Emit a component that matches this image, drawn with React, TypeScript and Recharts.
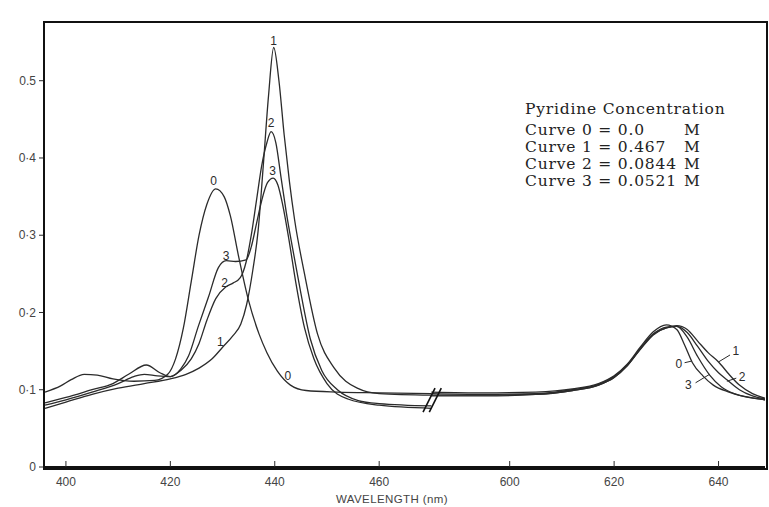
import React from 'react';
import { LineChart, Line, XAxis, YAxis, ReferenceDot, ReferenceLine } from 'recharts';

// ---- data: [wavelength nm, absorbance] ----
const curve0Left: [number, number][] = [
  [396, 0.097], [399, 0.105], [401, 0.113], [403.5, 0.12], [406, 0.119], [409, 0.114], [413, 0.111],
  [417, 0.112], [419.5, 0.12], [421, 0.14], [422.5, 0.18], [424, 0.24], [425.5, 0.3], [427, 0.34],
  [428.7, 0.36], [430.3, 0.35], [431.5, 0.325], [433, 0.275], [435, 0.215], [437, 0.172], [438.5, 0.148],
  [440.5, 0.124], [443, 0.106], [446, 0.099], [452, 0.097], [460, 0.096], [470, 0.095],
];
const curve1Left: [number, number][] = [
  [396, 0.076], [400, 0.084], [405, 0.094], [410, 0.102], [415, 0.108], [420, 0.114], [423, 0.12],
  [425.5, 0.128], [428, 0.14], [430, 0.155], [432, 0.17], [433.5, 0.185], [434.6, 0.21], [435.8, 0.255],
  [436.8, 0.305], [437.8, 0.39], [438.8, 0.48], [439.8, 0.543], [440.8, 0.5], [441.8, 0.43], [442.8, 0.37],
  [443.8, 0.32], [445.7, 0.25], [448.2, 0.172], [451.4, 0.128], [455.8, 0.102], [460, 0.095], [470, 0.093],
];
const curve2Left: [number, number][] = [
  [396, 0.08], [400, 0.087], [405, 0.097], [410, 0.108], [413, 0.117], [415, 0.12], [417.5, 0.118],
  [420, 0.117], [422, 0.125], [424, 0.14], [425.5, 0.16], [427, 0.19], [428.7, 0.218], [430.6, 0.233],
  [432, 0.238], [433.4, 0.245], [434.5, 0.265], [435.5, 0.3], [436.5, 0.345], [437.5, 0.39], [438.5, 0.42],
  [439.3, 0.434], [440.2, 0.42], [441.2, 0.375], [442.2, 0.33], [443.5, 0.28], [445, 0.225], [446.8, 0.166],
  [449, 0.125], [452, 0.1], [456, 0.086], [460, 0.082], [470, 0.079],
];
const curve3Left: [number, number][] = [
  [396, 0.083], [400, 0.09], [405, 0.1], [409, 0.108], [412, 0.12], [415.4, 0.132], [418, 0.122],
  [420, 0.117], [422, 0.127], [423.5, 0.144], [425.4, 0.183], [427.3, 0.22], [429.2, 0.258], [430.7, 0.267],
  [432.5, 0.266], [434.5, 0.268], [435.5, 0.285], [436.5, 0.315], [437.5, 0.345], [438.6, 0.368],
  [439.7, 0.374], [440.6, 0.365], [441.5, 0.34], [442.7, 0.295], [444, 0.24], [445.7, 0.18], [447.5, 0.14],
  [450, 0.108], [454, 0.088], [460, 0.08], [470, 0.076],
];
const curve0Right: [number, number][] = [
  [585, 0.097], [595, 0.096], [605, 0.097], [612, 0.101], [617, 0.108], [620, 0.118], [622.5, 0.133],
  [625, 0.155], [627.5, 0.175], [630, 0.184], [632, 0.178], [633.5, 0.158], [635, 0.135], [637, 0.118],
  [639, 0.106], [642, 0.097], [645, 0.091], [649, 0.087],
];
const curve1Right: [number, number][] = [
  [585, 0.095], [595, 0.094], [605, 0.095], [612, 0.1], [617, 0.107], [620, 0.117], [622.5, 0.132],
  [625, 0.153], [627.5, 0.172], [630, 0.18], [632, 0.183], [634, 0.178], [636, 0.163], [638, 0.148],
  [640, 0.136], [642, 0.12], [644, 0.106], [646.5, 0.095], [649, 0.089],
];
const curve2Right: [number, number][] = [
  [585, 0.093], [595, 0.093], [605, 0.094], [612, 0.099], [617, 0.106], [620, 0.116], [622.5, 0.131],
  [625, 0.152], [627.5, 0.171], [630, 0.18], [632, 0.182], [634, 0.174], [636, 0.156], [638, 0.137],
  [640, 0.122], [641.6, 0.113], [644, 0.1], [646.5, 0.092], [649, 0.088],
];
const curve3Right: [number, number][] = [
  [585, 0.092], [595, 0.092], [605, 0.094], [612, 0.099], [617, 0.106], [620, 0.116], [622.5, 0.131],
  [625, 0.153], [627.5, 0.172], [630, 0.181], [632, 0.182], [634, 0.168], [636, 0.143], [638.3, 0.119],
  [640.5, 0.104], [643, 0.095], [646, 0.09], [649, 0.087],
];

const xTickWavelengths = [400, 420, 440, 460, 600, 620, 640];
const xTickLabels = ['400', '420', '440', '460', '600', '620', '640'];
const yTicks = [0, 0.1, 0.2, 0.3, 0.4, 0.5];
const yTickLabels = ['0', '0·1', '0·2', '0·3', '0·4', '0.5'];

// curve number tags placed on the curves
const curveTags: { text: string; wl: number; a: number }[] = [
  { text: '1', wl: 439.8, a: 0.552 },
  { text: '2', wl: 439.3, a: 0.446 },
  { text: '3', wl: 439.6, a: 0.383 },
  { text: '0', wl: 428.3, a: 0.37 },
  { text: '3', wl: 430.7, a: 0.274 },
  { text: '2', wl: 430.4, a: 0.238 },
  { text: '1', wl: 429.6, a: 0.162 },
  { text: '0', wl: 442.5, a: 0.118 },
  { text: '0', wl: 632.4, a: 0.134 },
  { text: '1', wl: 643.3, a: 0.15 },
  { text: '2', wl: 644.5, a: 0.117 },
  { text: '3', wl: 634.2, a: 0.106 },
];
// little pointer strokes from right-hand tags to curves: [wl1, a1, wl2, a2]
const tagPointers: [number, number, number, number][] = [
  [633.5, 0.135, 634.8, 0.137],
  [640, 0.136, 642.2, 0.145],
  [641.6, 0.111, 643.4, 0.115],
  [635.6, 0.109, 638.3, 0.12],
];

const legendTitle = 'Pyridine Concentration';
const legendRows = ['Curve 0 = 0.0', 'Curve 1 = 0.467', 'Curve 2 = 0.0844', 'Curve 3 = 0.0521'];
const legendUnit = 'M';
const xAxisTitle = 'WAVELENGTH (nm)';

// ---- broken axis mapping ----
const BREAK_TO = 585;
const GAP_SHIFT = 115;
const toAxis = (wl: number) => (wl >= BREAK_TO ? wl - GAP_SHIFT : wl);
const X_MIN = 395.8;
const X_MAX = 533.9;
const Y_MAX = 0.576;
const breakMarks: [number, number, number, number][] = [
  [468.4, 0.071, 470.7, 0.102],
  [469.6, 0.071, 471.9, 0.102],
];

const toSeries = (pts: [number, number][]) => pts.map(([wl, a]) => ({ x: toAxis(wl), y: a }));

const segments = [curve0Left, curve1Left, curve2Left, curve3Left, curve0Right, curve1Right, curve2Right, curve3Right];

const INK = '#2b2b2b';
const TEXT = '#444';
const FRAME = { stroke: '#111', strokeWidth: 2 };

// plot box layout
const PLOT = { left: 44, top: 22, right: 765, bottom: 467 };

const XTick = (props: any) => {
  const { x, y, index } = props;
  return (
    <g>
      <line x1={x} x2={x} y1={y} y2={y - 6} stroke={INK} strokeWidth={1} />
      <text x={x} y={y + 19} textAnchor="middle" fontSize={12} fontFamily="Liberation Sans, Arial, sans-serif" fill={TEXT}>
        {xTickLabels[index]}
      </text>
    </g>
  );
};

export default function App() {
  return (
    <div style={{ position: 'absolute', left: 0, top: 0, width: 769, height: 507, background: '#fff' }}>
      <LineChart width={769} height={507} margin={{ top: PLOT.top, right: 769 - PLOT.right, bottom: 0, left: 0 }}>
        <XAxis
          type="number"
          dataKey="x"
          domain={[X_MIN, X_MAX]}
          allowDataOverflow
          ticks={xTickWavelengths.map(toAxis)}
          tick={<XTick />}
          tickLine={false}
          tickSize={0}
          tickMargin={0}
          axisLine={FRAME}
          height={507 - PLOT.bottom}
          interval={0}
        />
        <YAxis
          type="number"
          domain={[0, Y_MAX]}
          allowDataOverflow
          ticks={yTicks}
          tickFormatter={(v: number, i: number) => yTickLabels[i]}
          width={PLOT.left}
          axisLine={FRAME}
          tickLine={{ stroke: INK }}
          tickSize={5}
          tickMargin={3}
          tick={{ fontSize: 12, fill: TEXT, fontFamily: 'Liberation Sans, Arial, sans-serif' }}
        />
        {segments.map((seg, i) => (
          <Line
            key={i}
            data={toSeries(seg)}
            dataKey="y"
            type="monotone"
            dot={false}
            stroke={INK}
            strokeWidth={1.3}
            isAnimationActive={false}
          />
        ))}
        {breakMarks.map(([x1, y1, x2, y2], i) => (
          <ReferenceLine key={'b' + i} segment={[{ x: x1, y: y1 }, { x: x2, y: y2 }]} stroke="#111" strokeWidth={1.6} />
        ))}
        {tagPointers.map(([w1, a1, w2, a2], i) => (
          <ReferenceLine
            key={'p' + i}
            segment={[{ x: toAxis(w1), y: a1 }, { x: toAxis(w2), y: a2 }]}
            stroke={INK}
            strokeWidth={1}
          />
        ))}
        {curveTags.map((t, i) => (
          <ReferenceDot
            key={'t' + i}
            x={toAxis(t.wl)}
            y={t.a}
            r={0}
            fill="none"
            stroke="none"
            label={{ value: t.text, position: 'center', fontSize: 12, fill: INK, fontFamily: 'Liberation Sans, Arial, sans-serif' }}
          />
        ))}
      </LineChart>
      <div
        style={{
          position: 'absolute',
          left: PLOT.left - 1,
          top: PLOT.top - 1,
          width: PLOT.right - PLOT.left,
          height: PLOT.bottom - PLOT.top,
          border: '2px solid #111',
          boxSizing: 'content-box',
          pointerEvents: 'none',
        }}
      />
      <svg width={769} height={507} style={{ position: 'absolute', left: 0, top: 0, pointerEvents: 'none' }}>
        <g fontFamily="DejaVu Serif, serif" fontSize={15.5} fill="#222" letterSpacing={0.8}>
          <text x={525} y={114}>{legendTitle}</text>
          {legendRows.map((r, i) => (
            <React.Fragment key={i}>
              <text x={525} y={135 + i * 17}>{r}</text>
              <text x={684} y={135 + i * 17}>{legendUnit}</text>
            </React.Fragment>
          ))}
        </g>
        <text x={392} y={503} textAnchor="middle" fontSize={11.5} letterSpacing={0.4} fontFamily="Liberation Sans, Arial, sans-serif" fill={TEXT}>
          {xAxisTitle}
        </text>
      </svg>
    </div>
  );
}
